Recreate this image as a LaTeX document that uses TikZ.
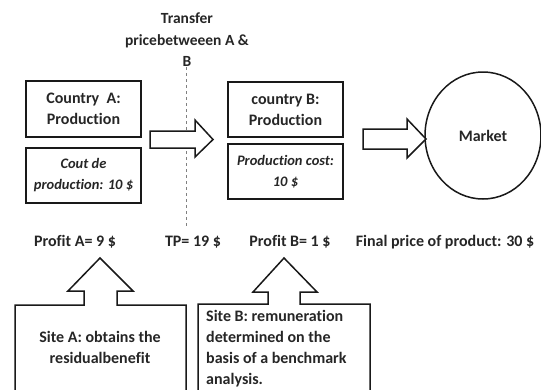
\documentclass[tikz,border=0pt]{standalone}
\usepackage{fontspec}
\setmainfont{Carlito}[Ligatures=NoCommon]
\usetikzlibrary{shapes.geometric}
\begin{document}
\begin{tikzpicture}[x=1pt,y=-1pt,
  every node/.style={font=\fontsize{16}{21}\selectfont\bfseries, text=black!85},
  pbox/.style={draw=black!90, line width=1.5pt, minimum width=115pt, inner sep=0pt, align=center},
  itbox/.style={pbox, font=\fontsize{14.5}{21}\selectfont\bfseries\itshape},
  blockarrow/.style={draw=black!90, line width=1.5pt, fill=white, line join=miter},
  lbl/.style={inner sep=0pt}
]
\useasboundingbox (0,0) rectangle (541,389);
% title and dashed line
\node[lbl, align=center, font=\fontsize{15.5}{21.5}\selectfont\bfseries] (title) at (187,40) {Transfer\\pricebetweeen A \&\\B};
\coordinate (dtop) at (186,67);
\coordinate (dbot) at (186,226);
\draw[black!50, dashed, line width=0.6pt] (dtop) -- (dbot);
% boxes
\node[pbox, minimum height=56pt] (ca) at (83.5,109) {Country\ \ A:\\Production};
\node[itbox, minimum height=55pt] (cca) at (83.5,175.5) {Cout de\\production: 10 \$};
\node[pbox, minimum height=55pt] (cb) at (285.5,109.5) {country B:\\Production};
\node[itbox, minimum height=55pt] (ccb) at (285.5,171.5) {Production cost:\\10 \$};
\node[draw=black!90, line width=1.5pt, ellipse, minimum width=116pt, minimum height=127pt, inner sep=0pt] (mkt) at (483,135.5) {Market};
% block arrows
\draw[blockarrow] (150,131) -- (195,131) -- (195,120) -- (213,139.5) -- (195,157) -- (195,148) -- (150,148) -- cycle;
\draw[blockarrow] (363,129) -- (407,129) -- (407,119) -- (426,139) -- (407,158) -- (407,149) -- (363,149) -- cycle;
% bottom labels
\node[lbl] (pa) at (75,242) {Profit A= 9 \$};
\node[lbl] (tp) at (193,242) {TP= 19 \$};
\node[lbl] (pb) at (290,242) {Profit B= 1 \$};
\node[lbl] (fp) at (445,242) {Final price of product: 30 \$};
% callouts
\draw[blockarrow] (15,395) -- (15,305) -- (84,305) -- (84,291) -- (68,291) -- (100,258) -- (133,291) -- (117,291) -- (117,305) -- (186,305) -- (186,395);
\draw[blockarrow] (198,395) -- (198,304) -- (268,304) -- (268,292) -- (253,292) -- (284,258) -- (317,292) -- (300,292) -- (300,304) -- (370,304) -- (370,395);
\node[lbl, align=center] (sa) at (100,347.5) {Site A: obtains the\\residualbenefit};
\node[lbl, align=left, anchor=north west] (sb) at (206,310.5) {Site B: remuneration\\determined on the\\basis of a benchmark\\analysis.};
\end{tikzpicture}
\end{document}
